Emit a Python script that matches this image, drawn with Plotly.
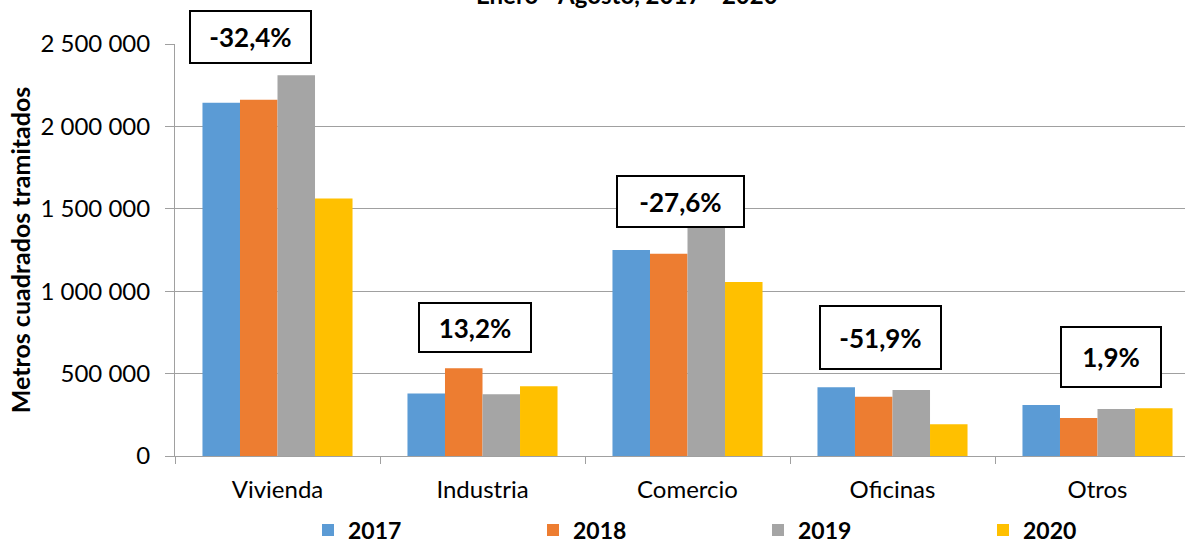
import plotly.graph_objects as go

categories = ["Vivienda", "Industria", "Comercio", "Oficinas", "Otros"]
years = ["2017", "2018", "2019", "2020"]
v2017 = [2144000, 380000, 1250000, 417000, 309000]
v2018 = [2162000, 532000, 1228000, 360000, 231000]
v2019 = [2310000, 374000, 1458000, 400000, 285000]
v2020 = [1562000, 423000, 1056000, 192000, 290000]
changes = ["-32,4%", "13,2%", "-27,6%", "-51,9%", "1,9%"]
colors = ["#5B9BD5", "#ED7D31", "#A5A5A5", "#FFC000"]

FONT = "Lato"
W, H = 1185, 543
L, R, T, B = 175, 1185, 44, 456

fig = go.Figure()
for name, vals, col in zip(years, [v2017, v2018, v2019, v2020], colors):
    fig.add_trace(go.Bar(x=categories, y=vals, name=f"<b>{name}</b>",
                         marker=dict(color=col, line=dict(width=0))))

def px2paper(px, py):
    return (px - L) / (R - L), (B - py) / (B - T)

# box centers and sizes in pixels (layout)
boxes = [(250, 37, 123, 54), (475, 327, 114, 51), (680, 201, 129, 53), (880, 337, 123, 65), (1111, 357, 102, 62)]
for txt, (cx, cy, bw, bh) in zip(changes, boxes):
    x, y = px2paper(cx, cy)
    fig.add_annotation(x=x, y=y, xref="paper", yref="paper", text=f"<b>{txt}</b>", showarrow=False,
                       font=dict(family=FONT, size=26, color="black"), bgcolor="white",
                       bordercolor="black", borderwidth=2, borderpad=0, width=bw - 4, height=bh - 4,
                       xanchor="center", yanchor="middle", valign="middle")

# partially visible title
tx, ty = px2paper(627, 11)
fig.add_annotation(x=tx, y=ty, xref="paper", yref="paper", text="<b>Enero - Agosto, 2017 - 2020</b>",
                   showarrow=False, font=dict(family=FONT, size=24, color="black"),
                   xanchor="center", yanchor="bottom")

fig.update_layout(
    width=W, height=H,
    margin=dict(l=L, r=W - R, t=T, b=H - B, autoexpand=False),
    plot_bgcolor="white", paper_bgcolor="white",
    barmode="group", bargap=0.268, bargroupgap=0,
    separators=", ",
    font=dict(family=FONT, size=22, color="black"),
    showlegend=True,
    legend=dict(orientation="h", x=(308 - L) / (R - L), xanchor="left", y=(B - 530) / (B - T), yanchor="middle",
                entrywidth=180, entrywidthmode="pixels", font=dict(family=FONT, size=23, color="black"),
                itemwidth=30, bgcolor="rgba(0,0,0,0)"),
    xaxis=dict(type="category", range=[-0.5, 4.5 - 15 / 205], showgrid=False, showline=True,
               linecolor="#a0a0a0", linewidth=1, ticks="outside", tickson="boundaries", ticklen=7,
               tickcolor="#a0a0a0", ticklabelstandoff=12, automargin=False,
               tickfont=dict(family=FONT, size=24, color="black")),
    yaxis=dict(range=[0, 2500000], dtick=500000, tickformat=",.0f", showgrid=True, gridcolor="#a0a0a0",
               gridwidth=1, showline=True, linecolor="#a0a0a0", linewidth=1, ticks="outside", ticklen=9,
               tickcolor="#a0a0a0", zeroline=False, ticklabelstandoff=10, automargin=False,
               tickfont=dict(family=FONT, size=24, color="black"),
               title=dict(text="<b>Metros cuadrados tramitados</b>", font=dict(family=FONT, size=25, color="black"),
                          standoff=2)),
)

fig.write_html("out.html", config={"displayModeBar": False},
               post_script="document.body.style.margin='0';")
